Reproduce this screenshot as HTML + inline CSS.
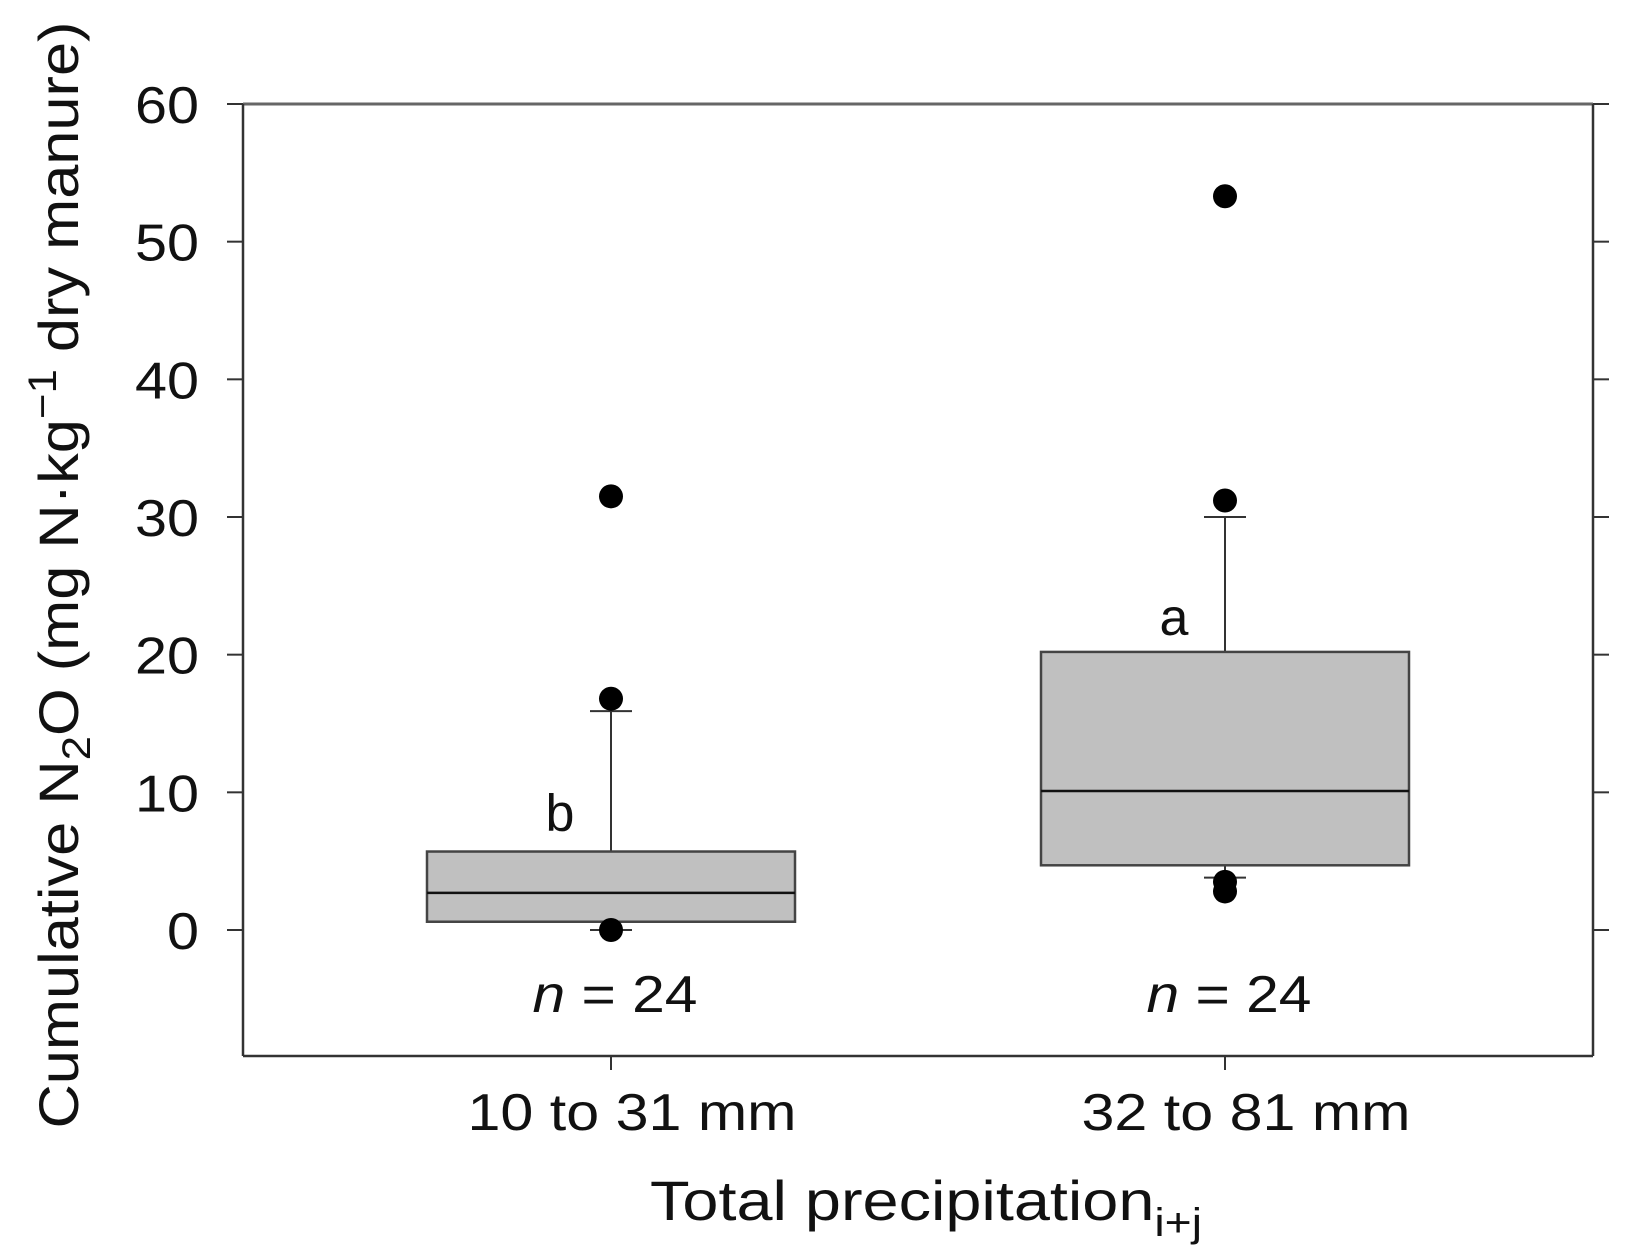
<!DOCTYPE html>
<html><head><meta charset="utf-8"><style>
html,body{margin:0;padding:0;background:#fff;}
svg{display:block;font-family:"Liberation Sans",sans-serif;}
</style></head><body>
<svg id="chart" width="1626" height="1255" viewBox="0 0 1626 1255" xmlns="http://www.w3.org/2000/svg"></svg>
<script>
const categories = ["10 to 31 mm", "32 to 81 mm"];
const q1s = [0.6, 4.7];
const medians = [2.7, 10.1];
const q3s = [5.7, 20.2];
const whiskerLow = [0, 3.8];
const whiskerHigh = [15.9, 30];
const outliers = [[31.5, 16.8, 0], [53.3, 31.2, 3.5, 2.8]];
const letters = ["b", "a"];
const letterY = [8.6, 22.8];
const yTicks = [0, 10, 20, 30, 40, 50, 60];

const NS = "http://www.w3.org/2000/svg";
const svg = document.getElementById("chart");
const L = 243, R = 1593, T = 104, B = 1056;
const y0px = 930;
function yS(v){ return y0px + (T - y0px) * (v / 60); }
const xCenters = [611, 1225];
function xS(i){ return xCenters[i]; }
const halfW = 184, capW = 21;

function el(tag, attrs, parent){
  const e = document.createElementNS(NS, tag);
  for (const k in attrs) e.setAttribute(k, attrs[k]);
  (parent || svg).appendChild(e);
  return e;
}

const frame = el("g", {});


el("line", {x1:L, y1:T, x2:R, y2:T, stroke:"#666", "stroke-width":3}, frame);
el("line", {x1:L, y1:T, x2:L, y2:B, stroke:"#333", "stroke-width":2.5}, frame);
el("line", {x1:R, y1:T, x2:R, y2:B, stroke:"#333", "stroke-width":2.5}, frame);
el("line", {x1:L, y1:B, x2:R, y2:B, stroke:"#333", "stroke-width":2.5}, frame);

const yAxis = el("g", {});


yTicks.forEach(t => {
  const y = yS(t);
  el("line", {x1:L-16, y1:y, x2:L, y2:y, stroke:"#333", "stroke-width":2}, yAxis);
  el("line", {x1:R, y1:y, x2:R+16, y2:y, stroke:"#333", "stroke-width":2}, yAxis);
  const s = String(t);
  const tx = el("text", {x:L-44, y:y+19, "text-anchor":"end", "font-size":52, fill:"#111", textLength:32*s.length, lengthAdjust:"spacingAndGlyphs"}, yAxis);
  
  
  tx.textContent = s;
});

categories.forEach((c, i) => {
  const g = el("g", {});
  
  
  const x = xS(i);
  el("line", {x1:x, y1:yS(q3s[i]), x2:x, y2:yS(whiskerHigh[i]), stroke:"#333", "stroke-width":2}, g);
  el("line", {x1:x, y1:yS(q1s[i]), x2:x, y2:yS(whiskerLow[i]), stroke:"#333", "stroke-width":2}, g);
  el("line", {x1:x-capW, y1:yS(whiskerHigh[i]), x2:x+capW, y2:yS(whiskerHigh[i]), stroke:"#333", "stroke-width":2}, g);
  el("line", {x1:x-capW, y1:yS(whiskerLow[i]), x2:x+capW, y2:yS(whiskerLow[i]), stroke:"#333", "stroke-width":2}, g);
  el("rect", {x:x-halfW, y:yS(q3s[i]), width:halfW*2, height:yS(q1s[i])-yS(q3s[i]), fill:"#c0c0c0", stroke:"#444", "stroke-width":2.5}, g);
  el("line", {x1:x-halfW, y1:yS(medians[i]), x2:x+halfW, y2:yS(medians[i]), stroke:"#111", "stroke-width":2.5}, g);
  outliers[i].forEach(v => {
    const p = el("circle", {cx:x, cy:yS(v), r:12, fill:"#000"}, g);
    
    
  });
  const lt = el("text", {x:x-51, y:yS(letterY[i])+19, "text-anchor":"middle", "font-size":52, fill:"#111"}, g);
  
  
  lt.textContent = letters[i];
  const nt = el("text", {x:x+4, y:1012, "text-anchor":"middle", "font-size":52, fill:"#111", textLength:165, lengthAdjust:"spacingAndGlyphs"}, g);
  
  
  nt.innerHTML = '<tspan font-style="italic">n</tspan> = 24';
  el("line", {x1:x, y1:B, x2:x, y2:B+14, stroke:"#333", "stroke-width":2}, g);
  const xl = el("text", {x:x+21, y:1130, "text-anchor":"middle", "font-size":52, fill:"#111", textLength:329, lengthAdjust:"spacingAndGlyphs"}, g);
  
  
  xl.textContent = c;
});

const xt = el("text", {x:650, y:1220, "font-size":56, fill:"#111", textLength:552, lengthAdjust:"spacingAndGlyphs"});


xt.innerHTML = 'Total precipitation<tspan font-size="40" dy="16">i+j</tspan>';

const yt = el("text", {x:0, y:0, "text-anchor":"middle", "font-size":56, fill:"#111", transform:"translate(78,575) rotate(-90)", textLength:1107, lengthAdjust:"spacingAndGlyphs"});


yt.innerHTML = 'Cumulative N<tspan font-size="40" dy="12">2</tspan><tspan dy="-12">O (mg N·kg</tspan><tspan font-size="40" dy="-22">−1</tspan><tspan dy="22"> dry manure)</tspan>';
</script>
</body></html>
